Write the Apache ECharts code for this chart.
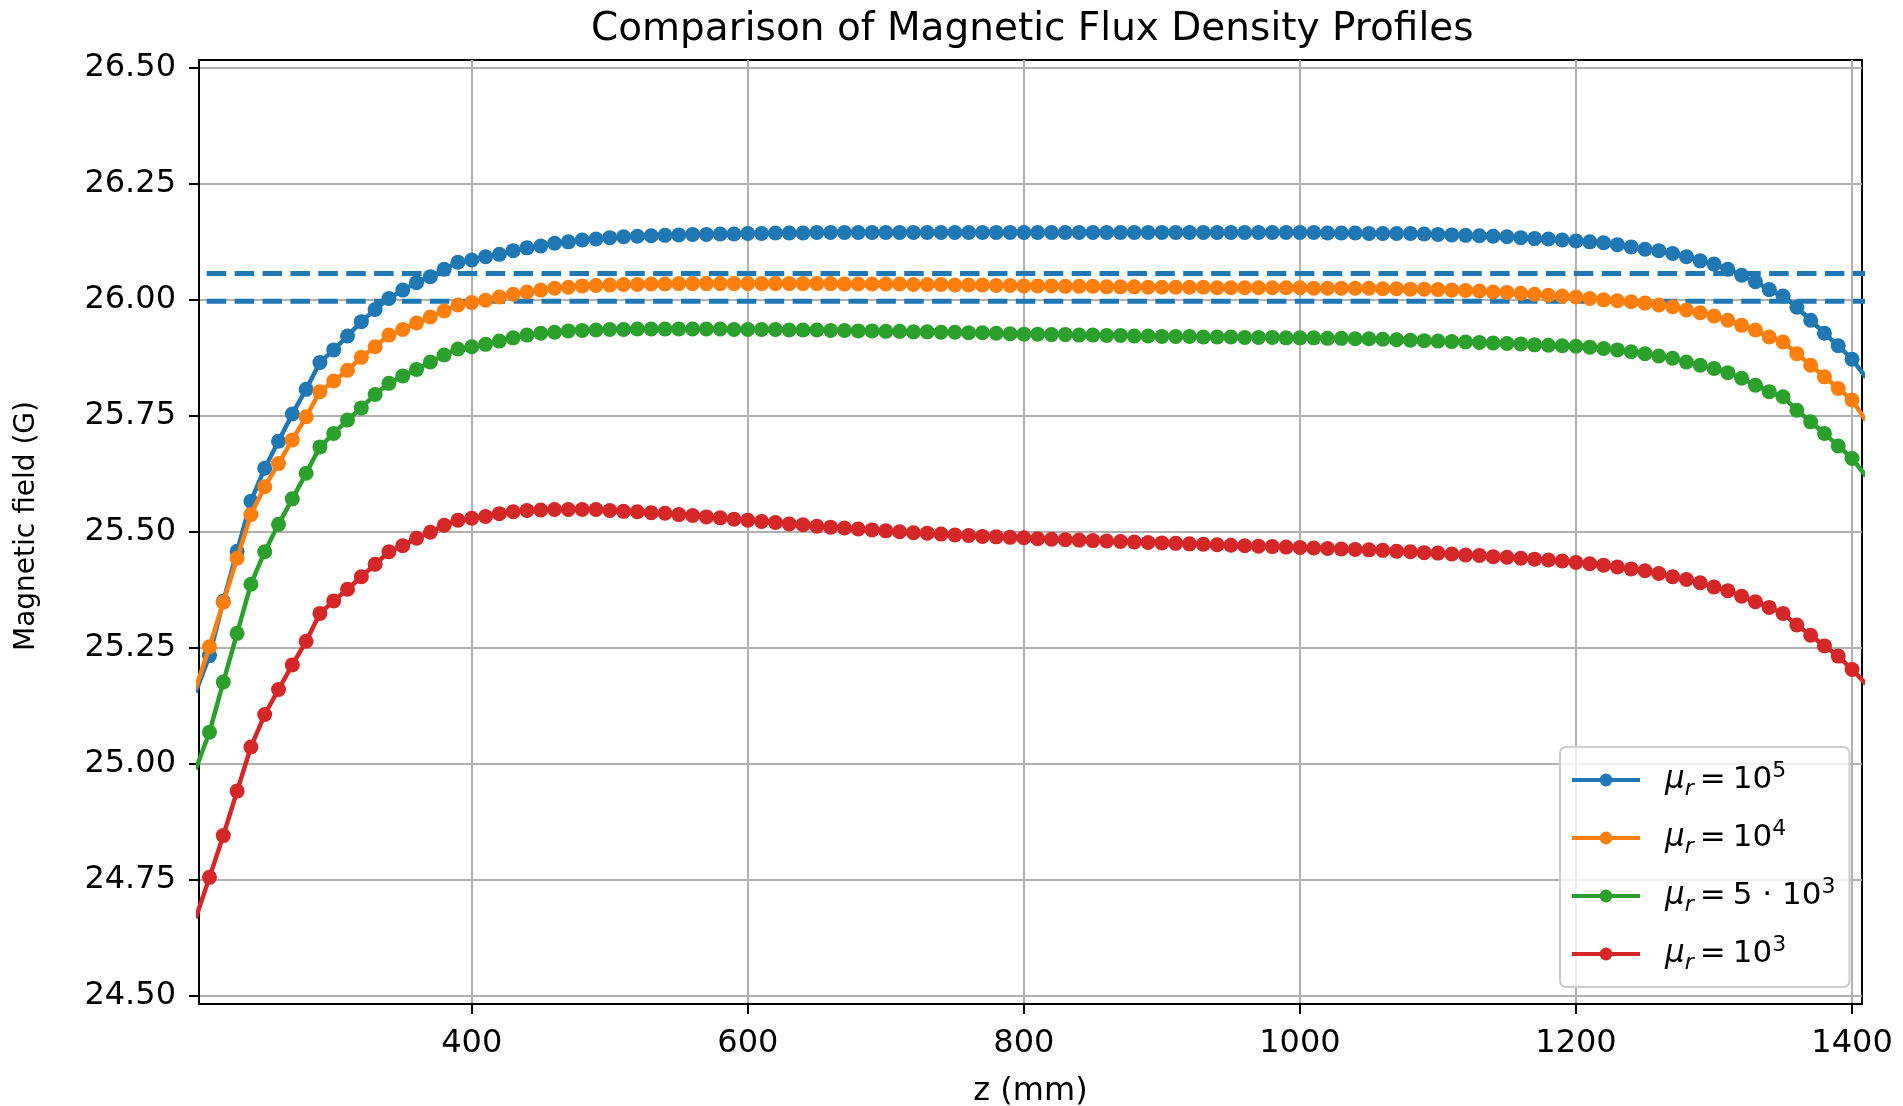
<!DOCTYPE html>
<html>
<head>
<meta charset="utf-8">
<title>Comparison of Magnetic Flux Density Profiles</title>
<script src="https://cdn.jsdelivr.net/npm/echarts@6/dist/echarts.min.js"></script>
<style>
  html, body { margin: 0; padding: 0; background: #fff; }
  #chart { width: 1903px; height: 1106px; }
</style>
</head>
<body>
<div id="chart"></div>
<script>
// z positions (mm)
const zValues = [
  200, 210, 220, 230, 240, 250, 260, 270, 280, 290,
  300, 310, 320, 330, 340, 350, 360, 370, 380, 390,
  400, 410, 420, 430, 440, 450, 460, 470, 480, 490,
  500, 510, 520, 530, 540, 550, 560, 570, 580, 590,
  600, 610, 620, 630, 640, 650, 660, 670, 680, 690,
  700, 710, 720, 730, 740, 750, 760, 770, 780, 790,
  800, 810, 820, 830, 840, 850, 860, 870, 880, 890,
  900, 910, 920, 930, 940, 950, 960, 970, 980, 990,
  1000, 1010, 1020, 1030, 1040, 1050, 1060, 1070, 1080, 1090,
  1100, 1110, 1120, 1130, 1140, 1150, 1160, 1170, 1180, 1190,
  1200, 1210, 1220, 1230, 1240, 1250, 1260, 1270, 1280, 1290,
  1300, 1310, 1320, 1330, 1340, 1350, 1360, 1370, 1380, 1390,
  1400, 1410
]

// magnetic field (G), mu_r = 1e5
const field1e5 = [
  25.154, 25.233, 25.350, 25.458, 25.566, 25.637, 25.695, 25.754, 25.807, 25.865,
  25.892, 25.922, 25.953, 25.979, 26.003, 26.021, 26.037, 26.050, 26.066, 26.081,
  26.086, 26.093, 26.098, 26.106, 26.112, 26.116, 26.122, 26.125, 26.129, 26.131,
  26.134, 26.136, 26.137, 26.138, 26.139, 26.140, 26.141, 26.141, 26.142, 26.142,
  26.143, 26.143, 26.144, 26.144, 26.144, 26.145, 26.145, 26.145, 26.145, 26.145,
  26.145, 26.145, 26.145, 26.145, 26.145, 26.145, 26.145, 26.145, 26.145, 26.145,
  26.145, 26.145, 26.145, 26.145, 26.145, 26.145, 26.145, 26.145, 26.145, 26.145,
  26.145, 26.145, 26.145, 26.145, 26.145, 26.145, 26.145, 26.145, 26.145, 26.145,
  26.145, 26.145, 26.144, 26.144, 26.144, 26.143, 26.143, 26.143, 26.143, 26.142,
  26.141, 26.140, 26.139, 26.138, 26.137, 26.136, 26.134, 26.132, 26.131, 26.129,
  26.127, 26.125, 26.123, 26.119, 26.114, 26.109, 26.106, 26.100, 26.093, 26.084,
  26.077, 26.066, 26.053, 26.039, 26.022, 26.008, 25.984, 25.956, 25.928, 25.901,
  25.872, 25.833
]

// mu_r = 1e4
const field1e4 = [
  25.162, 25.252, 25.348, 25.443, 25.537, 25.597, 25.647, 25.698, 25.748, 25.802,
  25.825, 25.848, 25.876, 25.899, 25.924, 25.936, 25.950, 25.963, 25.976, 25.989,
  25.994, 25.999, 26.006, 26.012, 26.017, 26.021, 26.025, 26.027, 26.030, 26.031,
  26.032, 26.033, 26.033, 26.034, 26.034, 26.035, 26.035, 26.035, 26.035, 26.035,
  26.035, 26.035, 26.035, 26.035, 26.035, 26.035, 26.035, 26.034, 26.034, 26.034,
  26.034, 26.034, 26.033, 26.033, 26.033, 26.032, 26.032, 26.032, 26.031, 26.031,
  26.030, 26.030, 26.030, 26.029, 26.029, 26.029, 26.028, 26.028, 26.028, 26.027,
  26.027, 26.027, 26.027, 26.027, 26.026, 26.026, 26.026, 26.026, 26.026, 26.026,
  26.026, 26.025, 26.025, 26.025, 26.025, 26.025, 26.024, 26.024, 26.023, 26.023,
  26.022, 26.021, 26.020, 26.019, 26.017, 26.016, 26.014, 26.012, 26.010, 26.008,
  26.006, 26.003, 26.000, 25.998, 25.996, 25.993, 25.989, 25.985, 25.978, 25.972,
  25.965, 25.956, 25.945, 25.935, 25.920, 25.909, 25.884, 25.859, 25.834, 25.809,
  25.784, 25.740
]

// mu_r = 5e3
const field5e3 = [
  24.988, 25.068, 25.176, 25.281, 25.387, 25.457, 25.516, 25.571, 25.626, 25.683,
  25.712, 25.741, 25.767, 25.796, 25.820, 25.836, 25.850, 25.866, 25.881, 25.894,
  25.899, 25.904, 25.911, 25.918, 25.924, 25.928, 25.930, 25.933, 25.934, 25.935,
  25.936, 25.936, 25.937, 25.937, 25.937, 25.937, 25.937, 25.937, 25.937, 25.936,
  25.936, 25.936, 25.936, 25.935, 25.935, 25.935, 25.934, 25.934, 25.933, 25.933,
  25.932, 25.932, 25.931, 25.931, 25.930, 25.930, 25.929, 25.929, 25.928, 25.927,
  25.926, 25.926, 25.925, 25.925, 25.924, 25.924, 25.923, 25.923, 25.922, 25.922,
  25.921, 25.921, 25.921, 25.920, 25.920, 25.920, 25.919, 25.919, 25.919, 25.918,
  25.918, 25.918, 25.917, 25.917, 25.916, 25.916, 25.915, 25.914, 25.913, 25.912,
  25.911, 25.910, 25.909, 25.908, 25.907, 25.906, 25.905, 25.903, 25.902, 25.901,
  25.900, 25.898, 25.895, 25.892, 25.888, 25.884, 25.879, 25.874, 25.866, 25.859,
  25.852, 25.843, 25.831, 25.816, 25.802, 25.791, 25.762, 25.737, 25.712, 25.685,
  25.658, 25.620
]

// mu_r = 1e3
const field1e3 = [
  24.667, 24.755, 24.845, 24.941, 25.036, 25.106, 25.160, 25.213, 25.264, 25.324,
  25.351, 25.376, 25.403, 25.430, 25.457, 25.470, 25.486, 25.499, 25.514, 25.525,
  25.529, 25.533, 25.539, 25.543, 25.546, 25.547, 25.548, 25.548, 25.548, 25.548,
  25.546, 25.544, 25.543, 25.541, 25.540, 25.537, 25.535, 25.532, 25.530, 25.527,
  25.525, 25.522, 25.520, 25.517, 25.515, 25.512, 25.510, 25.508, 25.506, 25.504,
  25.502, 25.500, 25.498, 25.497, 25.495, 25.493, 25.492, 25.490, 25.489, 25.488,
  25.487, 25.485, 25.484, 25.483, 25.482, 25.481, 25.480, 25.479, 25.478, 25.477,
  25.476, 25.475, 25.474, 25.473, 25.472, 25.471, 25.470, 25.469, 25.468, 25.467,
  25.466, 25.465, 25.464, 25.463, 25.462, 25.461, 25.460, 25.458, 25.457, 25.455,
  25.454, 25.452, 25.450, 25.449, 25.446, 25.445, 25.443, 25.441, 25.439, 25.437,
  25.434, 25.431, 25.428, 25.424, 25.420, 25.416, 25.410, 25.403, 25.397, 25.390,
  25.381, 25.373, 25.361, 25.349, 25.337, 25.324, 25.299, 25.277, 25.254, 25.232,
  25.203, 25.172
]

// the two dashed reference levels
const refLevels = [26.057, 25.997]
const refSpan = [208, 1410]

const xTicks = [400, 600, 800, 1000, 1200, 1400]
const yTicks = [24.5, 24.75, 25.0, 25.25, 25.5, 25.75, 26.0, 26.25, 26.5]

const seriesNames = ['mu1e5', 'mu1e4', 'mu5e3', 'mu1e3']
const legendTexts = [
  '{m|μ}{s|r}{e|=}{t|10}{p|5}',
  '{m|μ}{s|r}{e|=}{t|10}{p|4}',
  '{m|μ}{s|r}{e|=}{t|5 · 10}{p|3}',
  '{m|μ}{s|r}{e|=}{t|10}{p|3}'
]
const colors = ['#1f77b4', '#ff7f0e', '#2ca02c', '#d62728']

const FONT = 'DejaVu Sans'
const chart = echarts.init(document.getElementById('chart'), null, { renderer: 'canvas' })

function pairs(ys) {
  return zValues.map((z, i) => [z, ys[i]])
}

const curves = [field1e5, field1e4, field5e3, field1e3]

const series = []
refLevels.forEach((lvl, i) => {
  series.push({
    name: 'ref' + i,
    type: 'line',
    data: [[refSpan[0], lvl], [refSpan[1], lvl]],
    symbol: 'none',
    lineStyle: { color: '#1f77b4', width: 5, type: [19.5, 8.4] },
    silent: true,
    z: 1
  })
})
curves.forEach((ys, i) => {
  series.push({
    name: seriesNames[i],
    type: 'line',
    data: pairs(ys),
    symbol: 'circle',
    symbolSize: 15,
    showSymbol: true,
    clip: true,
    lineStyle: { color: colors[i], width: 4.5 },
    itemStyle: { color: colors[i], borderWidth: 0 },
    emphasis: { disabled: true },
    z: 2 + i
  })
})

chart.setOption({
  animation: false,
  backgroundColor: '#fff',
  title: {
    text: 'Comparison of Magnetic Flux Density Profiles',
    left: 591,
    top: 10,
    padding: 0,
    textStyle: { fontFamily: FONT, fontSize: 39, fontWeight: 'normal', color: '#000' }
  },
  grid: {
    left: 199, right: 41, top: 60, bottom: 102,
    outerBoundsMode: 'none',
    show: true, borderColor: '#000', borderWidth: 2, backgroundColor: 'transparent'
  },
  legend: {
    data: seriesNames,
    orient: 'vertical',
    left: 1560, top: 747,
    padding: [13, 14, 13, 10],
    itemWidth: 68, itemHeight: 16, itemGap: 18,
    backgroundColor: 'rgba(255,255,255,0.8)',
    borderColor: '#cccccc', borderWidth: 2, borderRadius: 6,
    lineStyle: { width: 4 },
    formatter: name => legendTexts[seriesNames.indexOf(name)],
    textStyle: {
      fontFamily: FONT, color: '#000',
      rich: {
        m: { fontFamily: FONT, fontStyle: 'italic', fontSize: 31, lineHeight: 40, padding: [0, 0, 0, 20], verticalAlign: 'middle' },
        s: { fontFamily: FONT, fontStyle: 'italic', fontSize: 22, lineHeight: 22, verticalAlign: 'bottom' },
        e: { fontFamily: FONT, fontSize: 31, lineHeight: 40, padding: [0, 7, 0, 6], verticalAlign: 'middle' },
        t: { fontFamily: FONT, fontSize: 31, lineHeight: 40, verticalAlign: 'middle' },
        p: { fontFamily: FONT, fontSize: 22, lineHeight: 22, verticalAlign: 'top' }
      }
    }
  },
  xAxis: {
    type: 'value',
    min: 202.4, max: 1407.2,
    name: 'z (mm)',
    nameLocation: 'middle',
    nameGap: 72,
    nameTextStyle: { fontFamily: FONT, fontSize: 32, color: '#000' },
    axisLine: { show: true, lineStyle: { color: '#000', width: 2 } },
    axisTick: { show: true, inside: false, length: 10, lineStyle: { color: '#000', width: 2 }, customValues: xTicks },
    axisLabel: {
      customValues: xTicks, margin: 24,
      fontFamily: FONT, fontSize: 32, color: '#000',
      formatter: v => String(Math.round(v))
    },
    splitLine: { show: true, lineStyle: { color: '#b0b0b0', width: 2 } }
  },
  yAxis: {
    type: 'value',
    min: 24.482, max: 26.517,
    name: 'Magnetic field (G)',
    nameLocation: 'middle',
    nameGap: 158,
    nameTextStyle: { fontFamily: FONT, fontSize: 28, color: '#000', padding: [0, 0, 0, 12] },
    axisLine: { show: true, lineStyle: { color: '#000', width: 2 } },
    axisTick: { show: true, inside: false, length: 10, lineStyle: { color: '#000', width: 2 }, customValues: yTicks },
    axisLabel: {
      customValues: yTicks, margin: 23,
      fontFamily: FONT, fontSize: 32, color: '#000',
      formatter: v => Number(v).toFixed(2)
    },
    splitLine: { show: true, lineStyle: { color: '#b0b0b0', width: 2 } }
  },
  series: series
})
</script>
</body>
</html>
